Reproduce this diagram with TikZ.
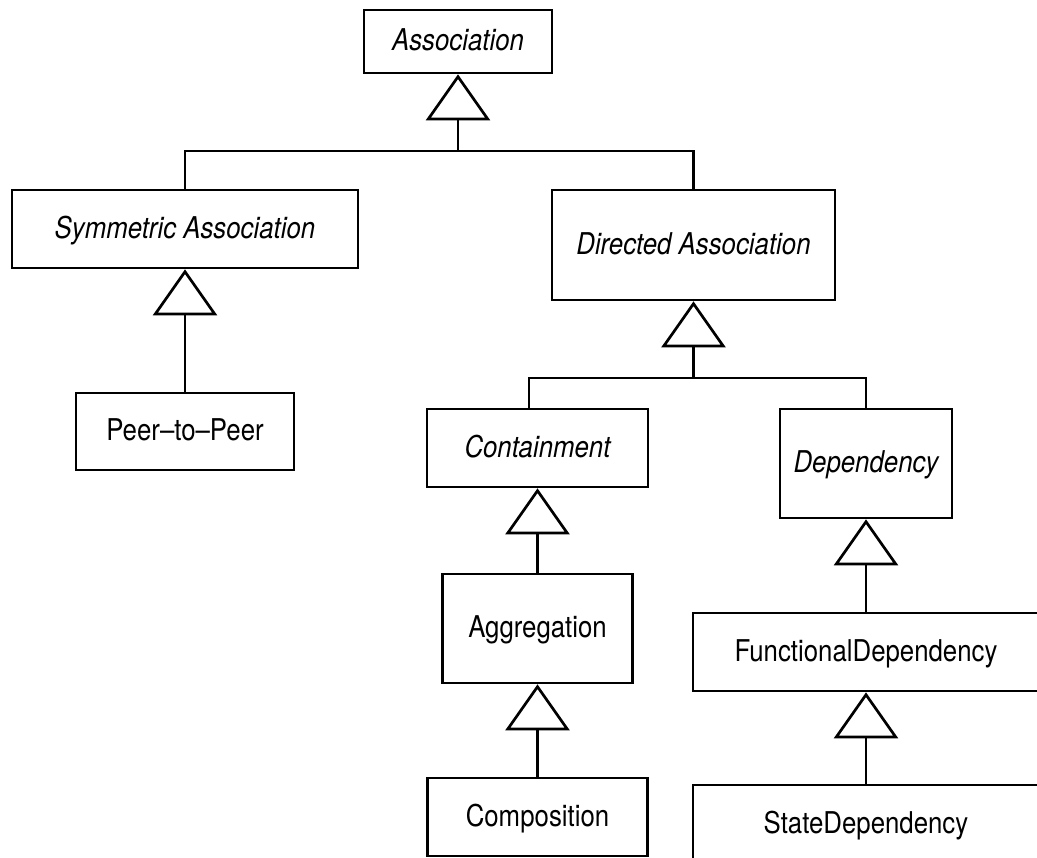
\documentclass[tikz,border=0pt]{standalone}
\usepackage{fontspec}
\setmainfont{TeX Gyre Heros}[FakeStretch=0.86]
\usetikzlibrary{arrows.meta}
\begin{document}
\begin{tikzpicture}[x=1pt,y=-1pt,line width=2.7pt,
  cls/.style={draw, rectangle, inner sep=0pt, text height=21.5pt, text depth=3pt,
              font=\fontsize{30}{36}\selectfont},
  abstract/.style={cls, font=\fontsize{30}{36}\selectfont\itshape},
  inherit/.style={-{Triangle[open,length=46pt,width=64pt]}},
  bus/.style={line join=miter}
]
\useasboundingbox (0,0) rectangle (1037,858);
\clip (0,0) rectangle (1037,858);

% classes
\node[abstract, minimum width=188pt, minimum height=63pt]  (assoc) at (458,41.5)   {Association};
\node[abstract, minimum width=346pt, minimum height=78pt]  (sym)   at (185,229)    {Symmetric Association};
\node[abstract, minimum width=283pt, minimum height=110pt] (dir)   at (693.5,245)  {Directed Association};
\node[cls,      minimum width=218pt, minimum height=77pt]  (peer)  at (185,431.5)  {Peer–to–Peer};
\node[abstract, minimum width=221pt, minimum height=78pt]  (cont)  at (537.5,448)  {Containment};
\node[abstract, minimum width=172pt, minimum height=109pt] (dep)   at (866,463.5)  {Dependency};
\node[cls,      minimum width=190pt, minimum height=109pt] (agg)   at (537.5,628.5){Aggregation};
\node[cls,      minimum width=220pt, minimum height=78pt]  (comp)  at (537.5,817)  {Composition};
\node[cls,      minimum width=346pt, minimum height=78pt]  (fdep)  at (866,652)    {FunctionalDependency};
\node[cls,      minimum width=346pt, minimum height=78pt]  (sdep)  at (866,824)    {StateDependency};

% shared generalisation bars
\coordinate (b1) at (458,151);
\coordinate (b2) at (693.5,378);

% generalisations
\draw[inherit] (b1) -- (assoc.south);
\draw[bus] (sym.north) |- (b1) -| (dir.north);

\draw[inherit] (peer.north) -- (sym.south);

\draw[inherit] (b2) -- (dir.south);
\draw[bus] ([xshift=-8.5pt]cont.north) |- (b2) -| (dep.north);

\draw[inherit] (agg.north) -- (cont.south);
\draw[inherit] (comp.north) -- (agg.south);

\draw[inherit] (fdep.north) -- (dep.south);
\draw[inherit] (sdep.north) -- (fdep.south);
\end{tikzpicture}
\end{document}
